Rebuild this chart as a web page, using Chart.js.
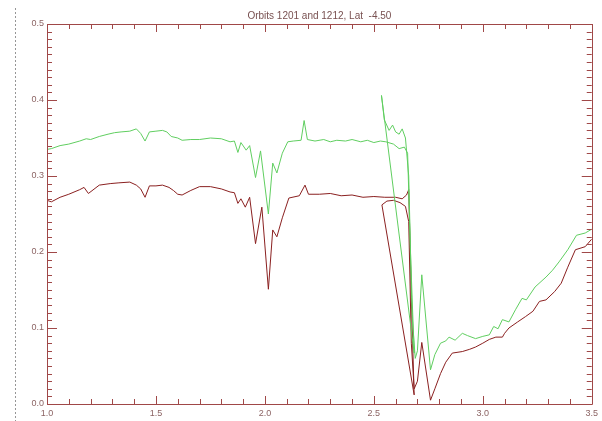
<!DOCTYPE html>
<html><head><meta charset="utf-8">
<script src="https://cdn.jsdelivr.net/npm/chart.js@4.4.0/dist/chart.umd.min.js"></script>
<style>html,body{margin:0;padding:0;background:#fff}#wrap{width:602px;height:421px;position:relative}</style>
</head><body><div id="wrap"><canvas id="c" width="602" height="421"></canvas></div>
<script>
const titleText = 'Orbits 1201 and 1212, Lat  -4.50';
const xTickValues = [1.0, 1.5, 2.0, 2.5, 3.0, 3.5];
const yTickValues = [0.0, 0.1, 0.2, 0.3, 0.4, 0.5];

const greenX = [1.0,1.02,1.06,1.1,1.15,1.18,1.2,1.24,1.28,1.31,1.34,1.38,1.41,1.43,1.45,1.47,1.5,1.53,1.55,1.57,1.6,1.62,1.66,1.7,1.75,1.8,1.84,1.86,1.876,1.89,1.914,1.93,1.957,1.98,2.016,2.036,2.055,2.08,2.105,2.13,2.166,2.18,2.195,2.23,2.27,2.3,2.33,2.37,2.4,2.44,2.47,2.5,2.53,2.555,2.59,2.616,2.64,2.655,2.668,2.685,
  2.535,2.548,2.57,2.586,2.6,2.616,2.63,2.645,2.66,2.675,2.69,2.7,2.72,2.76,2.78,2.806,2.83,2.845,2.873,2.906,2.93,2.967,3.0,3.03,3.05,3.07,3.09,3.12,3.15,3.18,3.2,3.24,3.29,3.32,3.35,3.39,3.43,3.47,3.5];
const greenY = [0.335,0.336,0.34,0.342,0.346,0.349,0.348,0.352,0.355,0.357,0.358,0.359,0.362,0.356,0.346,0.358,0.359,0.36,0.358,0.352,0.35,0.347,0.348,0.348,0.35,0.349,0.345,0.346,0.331,0.344,0.334,0.34,0.298,0.333,0.25,0.317,0.304,0.33,0.345,0.346,0.347,0.373,0.348,0.346,0.348,0.345,0.347,0.346,0.348,0.345,0.347,0.344,0.346,0.345,0.342,0.336,0.338,0.33,0.2,0.067,
  0.406,0.374,0.36,0.367,0.358,0.355,0.362,0.35,0.3,0.12,0.06,0.07,0.17,0.045,0.065,0.08,0.083,0.088,0.084,0.093,0.09,0.086,0.089,0.091,0.102,0.099,0.111,0.108,0.124,0.139,0.137,0.154,0.167,0.176,0.187,0.203,0.222,0.225,0.23];

const redX = [1.0,1.02,1.06,1.1,1.15,1.17,1.19,1.24,1.29,1.33,1.38,1.41,1.43,1.45,1.47,1.5,1.53,1.56,1.58,1.6,1.62,1.66,1.7,1.75,1.8,1.84,1.86,1.876,1.89,1.91,1.93,1.957,1.986,2.016,2.036,2.055,2.08,2.11,2.158,2.184,2.2,2.25,2.3,2.35,2.4,2.45,2.5,2.55,2.6,2.63,2.65,2.66,2.672,2.685,
  2.537,2.56,2.59,2.62,2.645,2.66,2.672,2.685,2.7,2.72,2.76,2.78,2.806,2.83,2.86,2.906,2.94,2.967,3.0,3.03,3.06,3.09,3.1,3.12,3.16,3.196,3.23,3.26,3.29,3.33,3.36,3.39,3.425,3.47,3.5];
const redY = [0.268,0.266,0.272,0.276,0.282,0.285,0.277,0.288,0.29,0.291,0.292,0.288,0.283,0.272,0.287,0.287,0.288,0.285,0.281,0.276,0.275,0.281,0.286,0.286,0.283,0.279,0.278,0.264,0.27,0.259,0.272,0.211,0.259,0.151,0.229,0.22,0.245,0.271,0.274,0.288,0.276,0.276,0.277,0.274,0.275,0.272,0.273,0.272,0.272,0.27,0.275,0.282,0.14,0.012,
  0.262,0.267,0.268,0.265,0.26,0.24,0.08,0.02,0.03,0.081,0.005,0.02,0.04,0.055,0.067,0.069,0.072,0.075,0.08,0.085,0.088,0.088,0.093,0.1,0.108,0.115,0.122,0.135,0.137,0.148,0.159,0.18,0.203,0.207,0.217];

const greenColor = 'rgb(96,206,96)';
const redColor = 'rgb(138,32,32)';
const axisColor = 'rgb(160,72,72)';
const textColor = 'rgb(140,100,100)';

function pts(xs, ys){ return xs.map((x,i)=>({x:x, y:ys[i]})); }

const boxPlugin = {
  id: 'idlBox',
  afterLayout(chart){
    const t = chart.titleBlock, a = chart.chartArea;
    if (t){ t.left = a.left; t.right = a.right; t.width = a.right - a.left; }
  },
  afterDatasetsDraw(chart){
    const ctx = chart.ctx, a = chart.chartArea;
    const xs = chart.scales.x, ys = chart.scales.y;
    ctx.save();
    ctx.strokeStyle = 'rgb(150,150,150)';
    ctx.lineWidth = 1;
    ctx.setLineDash([2,2]);
    ctx.beginPath(); ctx.moveTo(15.5, 8); ctx.lineTo(15.5, 421); ctx.stroke();
    ctx.setLineDash([]);
    ctx.strokeStyle = axisColor;
    ctx.lineWidth = 1;
    ctx.beginPath();
    ctx.rect(Math.round(a.left)+0.5, Math.round(a.top)+0.5, Math.round(a.right-a.left), Math.round(a.bottom-a.top));
    ctx.stroke();
    ctx.beginPath();
    const xMin = xTickValues[0], xMax = xTickValues[xTickValues.length-1];
    for (let i = 0; i <= Math.round((xMax-xMin)/0.1); i++){
      const v = xMin + i*0.1;
      const major = (i % 5) === 0;
      const len = major ? 8 : 5;
      const px = Math.round(xs.getPixelForValue(v)) + 0.5;
      ctx.moveTo(px, a.bottom); ctx.lineTo(px, a.bottom - len);
      ctx.moveTo(px, a.top); ctx.lineTo(px, a.top + len);
    }
    const yMin = yTickValues[0], yMax = yTickValues[yTickValues.length-1];
    for (let i = 0; i <= Math.round((yMax-yMin)/0.01); i++){
      const v = yMin + i*0.01;
      const major = (i % 10) === 0;
      const len = major ? 10 : 5;
      const py = Math.round(ys.getPixelForValue(v)) + 0.5;
      ctx.moveTo(a.left, py); ctx.lineTo(a.left + len, py);
      ctx.moveTo(a.right, py); ctx.lineTo(a.right - len, py);
    }
    ctx.stroke();
    ctx.restore();
  }
};

new Chart(document.getElementById('c'), {
  type: 'line',
  data: {
    datasets: [
      { label: 'Orbit 1212', data: pts(greenX, greenY), borderColor: greenColor, borderWidth: 1, pointRadius: 0, tension: 0, fill: false },
      { label: 'Orbit 1201', data: pts(redX, redY), borderColor: redColor, borderWidth: 1, pointRadius: 0, tension: 0, fill: false }
    ]
  },
  options: {
    responsive: false,
    animation: false,
    events: [],
    layout: { padding: { left: 0, right: 9, top: 0, bottom: 0 } },
    plugins: {
      legend: { display: false },
      tooltip: { enabled: false },
      title: { display: true, text: titleText, color: 'rgb(120,80,80)', font: { family: 'Liberation Sans', size: 10, weight: 'normal' }, padding: { top: 10, bottom: 2 } }
    },
    scales: {
      x: {
        type: 'linear', min: xTickValues[0], max: xTickValues[xTickValues.length-1],
        afterBuildTicks(s){ s.ticks = xTickValues.map(v=>({value:v})); },
        afterFit(s){ s.height = 17; },
        grid: { display: false, drawTicks: false },
        border: { display: false },
        ticks: { color: textColor, font: { family: 'Liberation Sans', size: 9 }, padding: 4, maxRotation: 0, autoSkip: false, callback: v => Number(v).toFixed(1) }
      },
      y: {
        type: 'linear', min: yTickValues[0], max: yTickValues[yTickValues.length-1],
        afterBuildTicks(s){ s.ticks = yTickValues.map(v=>({value:v})); },
        afterFit(s){ s.width = 47; },
        grid: { display: false, drawTicks: false },
        border: { display: false },
        ticks: { color: textColor, font: { family: 'Liberation Sans', size: 9 }, padding: 3, autoSkip: false, callback: v => Number(v).toFixed(1) }
      }
    }
  },
  plugins: [boxPlugin]
});
</script></body></html>
